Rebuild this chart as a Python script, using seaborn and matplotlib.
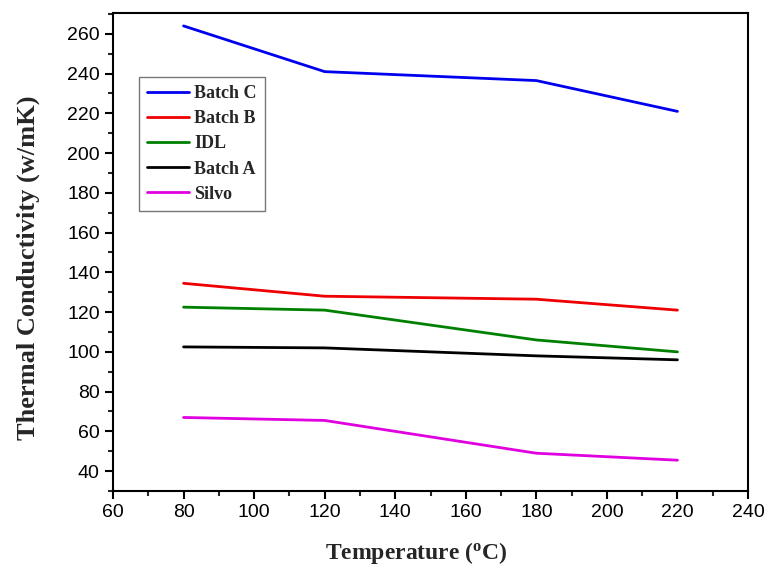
import matplotlib
matplotlib.use("Agg")
import matplotlib.pyplot as plt
import seaborn as sns
import pandas as pd
from matplotlib.ticker import MultipleLocator

temperature = [80, 120, 180, 220]
batch_c = [264, 241, 236.5, 221]
batch_b = [134.5, 128, 126.5, 121]
idl = [122.5, 121, 106, 100]
batch_a = [102.5, 102, 98, 96]
silvo = [67, 65.5, 49, 45.5]

series_names = ["Batch C", "Batch B", "IDL", "Batch A", "Silvo"]
series_values = [batch_c, batch_b, idl, batch_a, silvo]
colors = ["#0000ee", "#ee0000", "#008000", "#000000", "#e000e0"]

rows = []
for name, vals in zip(series_names, series_values):
    for t, v in zip(temperature, vals):
        rows.append({"Temperature": t, "Value": v, "Series": name})
df = pd.DataFrame(rows)

sns.set_theme(style="ticks")
plt.rcParams["font.family"] = ["Liberation Sans", "DejaVu Sans"]

fig = plt.figure(figsize=(7.65, 5.69), dpi=100)
ax = fig.add_axes([113/765, 1-491/569, (748-113)/765, (491-13)/569])

sns.lineplot(data=df, x="Temperature", y="Value", hue="Series",
             hue_order=series_names, palette=colors, linewidth=2, ax=ax,
             sort=False)

ax.set_xlim(60, 240)
ax.set_ylim(30, 270.5)
ax.xaxis.set_major_locator(MultipleLocator(20))
ax.xaxis.set_minor_locator(MultipleLocator(10))
ax.yaxis.set_minor_locator(MultipleLocator(10))
ax.set_yticks(range(40, 261, 20))
ax.tick_params(axis="both", which="major", direction="out", length=6, width=1.5,
               labelsize=14, colors="black")
ax.tick_params(axis="both", which="minor", direction="out", length=3.5, width=1.5)
for s in ax.spines.values():
    s.set_linewidth(1.5)
    s.set_color("black")

serif = ["Liberation Serif", "DejaVu Serif"]
ax.set_xlabel("Temperature ($\\mathregular{^{o}}$C)", family=serif,
              fontweight="bold", fontsize=17)
ax.set_ylabel("Thermal Conductivity (w/mK)", family=serif,
              fontweight="bold", fontsize=19)
ax.xaxis.set_label_coords(0.478, -0.103)
ax.yaxis.set_label_coords(-0.115, 0.467)

leg = ax.legend(loc="upper left", bbox_to_anchor=(0.041, 0.866), borderaxespad=0,
                frameon=True, fancybox=False, edgecolor="#555555",
                handlelength=2.3, borderpad=0.45, labelspacing=0.45,
                handletextpad=0.3,
                prop={"family": serif, "weight": "bold", "size": 13})
leg.get_frame().set_linewidth(1.0)
for line in leg.get_lines():
    line.set_linewidth(2)

fig.savefig("out.png", dpi=100)
